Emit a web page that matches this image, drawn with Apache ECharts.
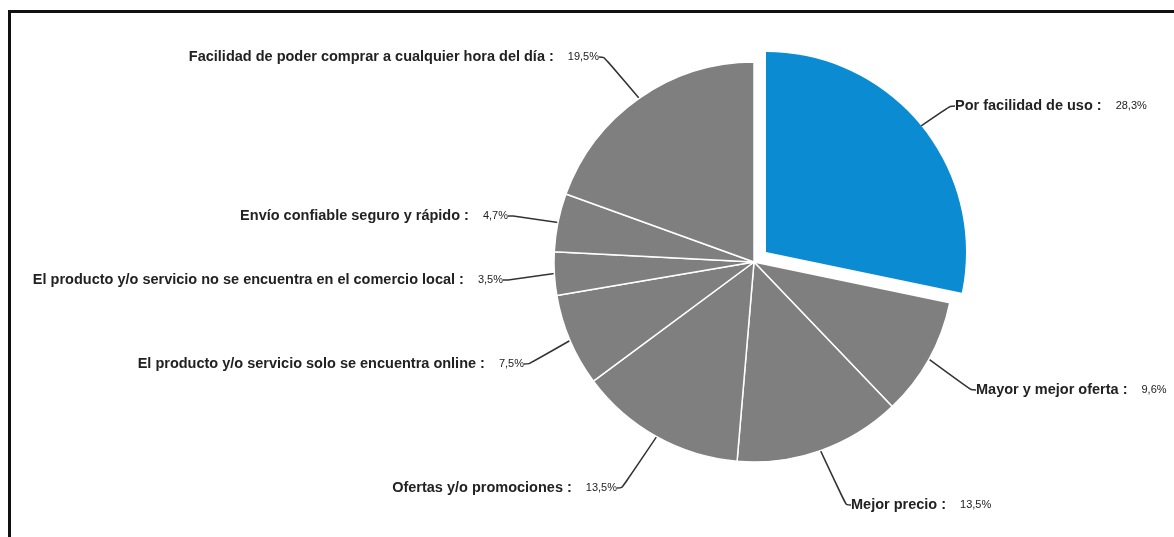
<!DOCTYPE html>
<html>
<head>
<meta charset="utf-8">
<script src="https://cdn.jsdelivr.net/npm/echarts@6/dist/echarts.min.js"></script>
<style>
  html, body { margin: 0; padding: 0; background: #fff; }
  #frame {
    position: absolute; left: 8px; top: 10px; right: 0; bottom: 0;
    border-top: 3px solid #111; border-left: 3px solid #111;
    pointer-events: none;
  }
  #chart { position: absolute; left: 0; top: 0; width: 1174px; height: 537px; }
</style>
</head>
<body>
<div id="chart"></div>
<div id="frame"></div>
<script>
// motivos, en el orden del gráfico (desde arriba, sentido horario)
var categories = [
  'Por facilidad de uso',
  'Mayor y mejor oferta',
  'Mejor precio',
  'Ofertas y/o promociones',
  'El producto y/o servicio solo se encuentra online',
  'El producto y/o servicio no se encuentra en el comercio local',
  'Envío confiable seguro y rápido',
  'Facilidad de poder comprar a cualquier hora del día'
]
var percentages = [28.3, 9.6, 13.5, 13.5, 7.5, 3.5, 4.7, 19.5]
var highlighted = [true, false, false, false, false, false, false, false]

// donde va cada etiqueta (x, y, alineación)
var labelAnchors = [
  [955, 106, 'left'],
  [976, 390, 'left'],
  [851, 505, 'left'],
  [617, 488, 'right'],
  [524, 364, 'right'],
  [503, 280, 'right'],
  [508, 216, 'right'],
  [599, 57, 'right']
]

var hidden = { color: 'rgba(0,0,0,0)', borderWidth: 0 }
var noLabel = { show: false }

// serie gris (el sector destacado queda vacío) y serie del sector separado
var baseData = []
var explodedData = []
for (var i = 0; i < categories.length; i++) {
  baseData.push({
    name: categories[i],
    value: percentages[i],
    itemStyle: highlighted[i] ? hidden : { color: '#7f7f7f' },
    label: highlighted[i] ? noLabel : undefined,
    labelLine: highlighted[i] ? noLabel : undefined
  })
  explodedData.push({
    name: categories[i],
    value: percentages[i],
    itemStyle: highlighted[i] ? { color: '#0a8bd2', borderWidth: 0 } : hidden,
    label: highlighted[i] ? undefined : noLabel,
    labelLine: highlighted[i] ? undefined : noLabel
  })
}

var label = {
  show: true,
  position: 'outside',
  bleedMargin: 0,
  formatter: function (p) {
    return '{n|' + p.name + ' :}{v|' + p.value.toFixed(1).replace('.', ',') + '%}'
  },
  rich: {
    n: { fontFamily: 'Liberation Sans, Arial, sans-serif', fontWeight: 'bold', fontSize: 14.5, color: '#222' },
    v: { fontFamily: 'Liberation Sans, Arial, sans-serif', fontSize: 11, color: '#222', padding: [0, 0, 0, 14] }
  }
}
var labelLine = {
  show: true,
  length: 5,
  length2: 5,
  smooth: 0.3,
  lineStyle: { color: '#333', width: 1.5 }
}
var labelLayout = function (p) {
  var a = labelAnchors[p.dataIndex]
  return { x: a[0], y: a[1], align: a[2], verticalAlign: 'middle' }
}

var myChart = echarts.init(document.getElementById('chart'))
myChart.setOption({
  animation: false,
  series: [{
    type: 'pie',
    center: [754, 262],
    radius: 200,
    startAngle: 90,
    clockwise: true,
    data: baseData,
    itemStyle: { borderColor: '#fff', borderWidth: 1.5 },
    emphasis: { disabled: true },
    label: label,
    labelLine: labelLine,
    labelLayout: labelLayout
  }, {
    type: 'pie',
    center: [766, 252],
    radius: 200,
    startAngle: 90,
    clockwise: true,
    data: explodedData,
    emphasis: { disabled: true },
    label: label,
    labelLine: labelLine,
    labelLayout: labelLayout
  }]
})
</script>
</body>
</html>
